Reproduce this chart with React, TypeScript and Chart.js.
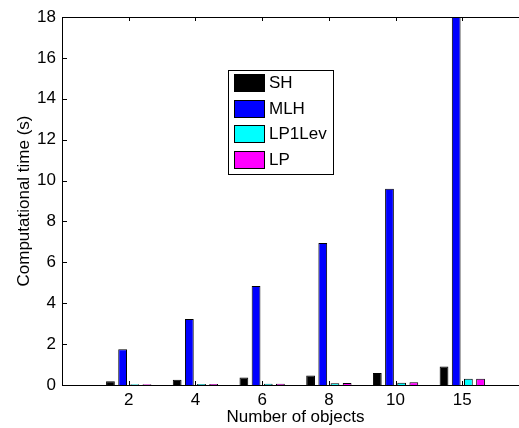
import React, { useEffect, useRef } from 'react';
import { Chart, registerables } from 'chart.js';

Chart.register(...registerables);

const categories = ['2', '4', '6', '8', '10', '15'];
const seriesNames = ['SH', 'MLH', 'LP1Lev', 'LP'];
const shValues = [0.18, 0.26, 0.37, 0.47, 0.59, 0.91];
const mlhValues = [1.75, 3.23, 4.84, 6.95, 9.6, 18];
const lp1levValues = [0.04, 0.05, 0.06, 0.08, 0.11, 0.31];
const lpValues = [0.04, 0.05, 0.06, 0.1, 0.13, 0.31];
const seriesColors = ['#000000', '#0000ff', '#00ffff', '#ff00ff'];
const yMin = 0;
const yMax = 18;
const yStep = 2;

const FONT = "'Liberation Sans', Arial, Helvetica, sans-serif";

const matlabAxes = {
  id: 'matlabAxes',
  afterDatasetsDraw(chart: any) {
    const { ctx, chartArea, scales } = chart;
    const { left, right, top, bottom } = chartArea;
    const x = scales.x;
    const y = scales.y;
    ctx.save();
    ctx.strokeStyle = '#000';
    ctx.lineWidth = 1;
    ctx.beginPath();
    ctx.rect(left + 0.5, top + 0.5, right - left - 1, bottom - top);
    ctx.stroke();
    ctx.beginPath();
    for (let i = 1; i <= categories.length; i++) {
      const px = Math.round(x.getPixelForTick(i)) + 0.5;
      ctx.moveTo(px, bottom);
      ctx.lineTo(px, bottom - 4);
      ctx.moveTo(px, top);
      ctx.lineTo(px, top + 4);
    }
    for (let v = yMin; v <= yMax; v += yStep) {
      const py = Math.round(y.getPixelForValue(v)) + 0.5;
      ctx.moveTo(left, py);
      ctx.lineTo(left + 5, py);
      ctx.moveTo(right, py);
      ctx.lineTo(right - 5, py);
    }
    ctx.stroke();
    ctx.restore();
  },
};

const boxLegend = {
  id: 'boxLegend',
  afterDraw(chart: any) {
    const { ctx } = chart;
    const bx = 228.5, by = 70.5, bw = 105, bh = 104;
    ctx.save();
    ctx.fillStyle = '#fff';
    ctx.fillRect(bx, by, bw, bh);
    ctx.strokeStyle = '#000';
    ctx.lineWidth = 1;
    ctx.strokeRect(bx, by, bw, bh);
    ctx.font = `17px ${FONT}`;
    ctx.textBaseline = 'middle';
    ctx.textAlign = 'left';
    chart.data.datasets.forEach((ds: any, i: number) => {
      const sy = 74 + i * 25.6;
      ctx.fillStyle = ds.backgroundColor;
      ctx.fillRect(234, Math.round(sy), 31, 18);
      ctx.strokeStyle = '#000';
      ctx.strokeRect(234.5, Math.round(sy) + 0.5, 30, 17);
      ctx.fillStyle = '#000';
      ctx.fillText(ds.label, 269, Math.round(sy) + 9.5);
    });
    ctx.restore();
  },
};

export default function App() {
  const ref = useRef<HTMLCanvasElement | null>(null);
  useEffect(() => {
    if (!ref.current) return;
    const pad = (a: number[]) => [null, ...a, null];
    const allValues = [shValues, mlhValues, lp1levValues, lpValues];
    const chart = new Chart(ref.current, {
      type: 'bar',
      data: {
        labels: ['', ...categories, ''],
        datasets: seriesNames.map((name, i) => ({
          label: name,
          data: pad(allValues[i]),
          backgroundColor: seriesColors[i],
          borderColor: '#000',
          borderWidth: 1,
          categoryPercentage: 0.73,
          barPercentage: 0.72,
        })),
      },
      options: {
        responsive: false,
        animation: false,
        devicePixelRatio: 1,
        layout: { padding: { top: 17, right: 11, left: 0, bottom: 0 } },
        plugins: { legend: { display: false }, tooltip: { enabled: false } },
        font: { family: FONT },
        scales: {
          x: {
            type: 'category',
            offset: false,
            grid: { display: false, drawTicks: false },
            border: { display: false },
            ticks: {
              autoSkip: false,
              maxRotation: 0,
              color: '#000',
              padding: 5,
              font: { family: FONT, size: 17 },
            },
            title: {
              display: true,
              text: 'Number of objects',
              color: '#000',
              font: { family: FONT, size: 17 },
              padding: { top: 0, bottom: 0 },
            },
            afterFit: (s: any) => { s.height = 43; },
          },
          y: {
            min: yMin,
            max: yMax,
            grid: { display: false, drawTicks: false },
            border: { display: false },
            ticks: {
              stepSize: yStep,
              color: '#000',
              padding: 6,
              font: { family: FONT, size: 17 },
            },
            title: {
              display: true,
              text: 'Computational time (s)',
              color: '#000',
              font: { family: FONT, size: 17 },
              padding: { top: 14, bottom: 0 },
            },
            afterFit: (s: any) => { s.width = 62; },
          },
        },
      } as any,
      plugins: [matlabAxes, boxLegend],
    });
    return () => chart.destroy();
  }, []);
  return (
    <div style={{ position: 'fixed', left: 0, top: 0, width: 519, height: 428, overflow: 'hidden', background: '#fff' }}>
      <canvas ref={ref} width={540} height={428} style={{ display: 'block', width: 540, height: 428 }} />
    </div>
  );
}
